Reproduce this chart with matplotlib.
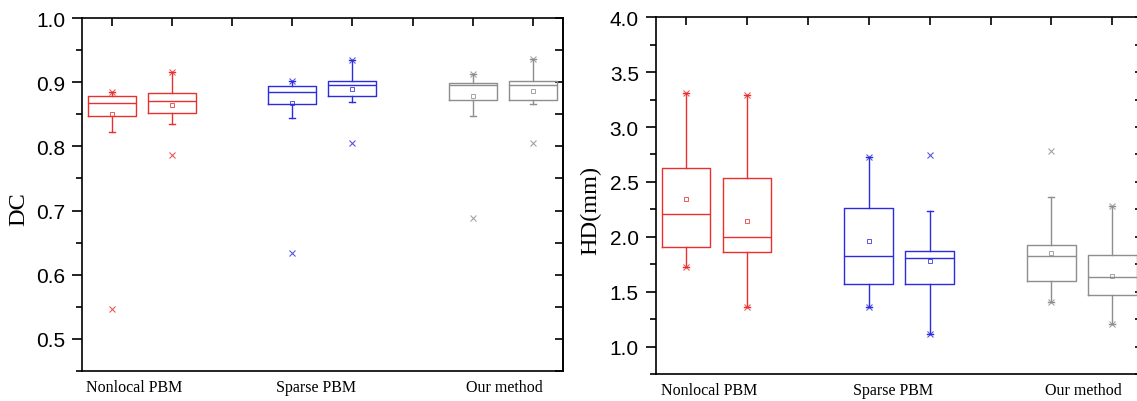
import matplotlib
matplotlib.use('Agg')
import matplotlib.pyplot as plt
from matplotlib.ticker import MultipleLocator
import matplotlib.transforms as mtransforms

# categories and box positions
groups = ['Nonlocal PBM', 'Sparse PBM', 'Our method']
positions = [[1, 2], [4, 5], [7, 8]]
label_x = [1.38, 4.4, 7.52]
colors = ['#e8302e', '#2c2cde', '#8e8e8e']

# DC: q1, median, q3, whisker low, whisker high, mean
dc_q1 = [0.848, 0.852, 0.866, 0.879, 0.8715, 0.8715]
dc_med = [0.868, 0.871, 0.885, 0.895, 0.896, 0.895]
dc_q3 = [0.878, 0.883, 0.894, 0.9026, 0.8995, 0.9026]
dc_lo = [0.822, 0.835, 0.844, 0.8695, 0.848, 0.866]
dc_hi = [0.885, 0.916, 0.902, 0.935, 0.913, 0.936]
dc_mean = [0.850, 0.865, 0.868, 0.889, 0.879, 0.887]
dc_marks = [[0.885, 0.546], [0.916, 0.787], [0.902, 0.634],
            [0.935, 0.805], [0.913, 0.688], [0.936, 0.805]]

# HD(mm)
hd_q1 = [1.911, 1.863, 1.574, 1.574, 1.595, 1.474]
hd_med = [2.209, 2.002, 1.823, 1.805, 1.823, 1.632]
hd_q3 = [2.628, 2.537, 2.266, 1.875, 1.926, 1.838]
hd_lo = [1.723, 1.362, 1.362, 1.119, 1.410, 1.207]
hd_hi = [3.308, 3.293, 2.728, 2.236, 2.367, 2.282]
hd_mean = [2.345, 2.148, 1.963, 1.784, 1.853, 1.647]
hd_marks = [[3.308, 1.723], [3.293, 1.362], [2.728, 1.362],
            [2.743, 1.119], [2.780, 1.410], [2.282, 1.207]]

serif = 'Liberation Serif'
sans = 'Liberation Sans'


def make_stats(q1, med, q3, lo, hi, mean, marks):
    stats = []
    for i in range(len(q1)):
        stats.append(dict(q1=q1[i], med=med[i], q3=q3[i], whislo=lo[i],
                          whishi=hi[i], mean=mean[i], fliers=marks[i]))
    return stats


def draw_panel(ax, stats, ylim, major, minor, ylabel, label_pos):
    for g in range(len(groups)):
        col = colors[g]
        ax.bxp(stats[2 * g:2 * g + 2], positions=positions[g], widths=0.8,
               capwidths=0.1, showmeans=True, manage_ticks=False,
               boxprops=dict(color=col, lw=1.0),
               medianprops=dict(color=col, lw=1.0),
               whiskerprops=dict(color=col, lw=1.0),
               capprops=dict(color=col, lw=1.0),
               meanprops=dict(marker='s', markersize=3.5, markerfacecolor='none',
                              markeredgecolor=col, markeredgewidth=0.7, alpha=0.8),
               flierprops=dict(marker='x', markersize=4, markeredgecolor=col,
                               markeredgewidth=0.8, alpha=0.8))
    ax.set_xlim(0.5, 8.5)
    ax.set_ylim(*ylim)
    ax.set_xticks(range(1, 9))
    ax.tick_params(axis='x', bottom=False, labelbottom=False, top=True,
                   direction='in', length=6, width=1.2)
    ax.yaxis.set_major_locator(MultipleLocator(major))
    ax.yaxis.set_minor_locator(MultipleLocator(minor))
    ax.tick_params(axis='y', which='major', direction='out', length=7, width=1.2,
                   labelsize=15, pad=5)
    ax.tick_params(axis='y', which='minor', direction='out', length=4, width=1.2)
    for lab in ax.get_yticklabels():
        lab.set_fontfamily(sans)
    sec = ax.secondary_yaxis('right')
    sec.yaxis.set_major_locator(MultipleLocator(major))
    sec.yaxis.set_minor_locator(MultipleLocator(minor))
    sec.tick_params(which='both', direction='in', length=6, width=1.2, labelright=False)
    sec.spines['right'].set_linewidth(1.2)
    for s in ax.spines.values():
        s.set_linewidth(1.2)
    ax.set_ylabel(ylabel, fontsize=17.5, family=serif)
    ax.yaxis.set_label_coords(label_pos, 0.46)
    trans = mtransforms.blended_transform_factory(ax.transData, ax.transAxes)
    for x, name in zip(label_x, groups):
        ax.text(x, -0.044, name, transform=trans, ha='center', va='center',
                fontsize=11.5, family=serif)


fig = plt.figure(figsize=(11.37, 4.02), dpi=100)
ax1 = fig.add_axes([81.7 / 1137, 30 / 402, 481.3 / 1137, 353 / 402])
ax2 = fig.add_axes([655.5 / 1137, 27 / 402, 487.3 / 1137, 356.7 / 402])

draw_panel(ax1, make_stats(dc_q1, dc_med, dc_q3, dc_lo, dc_hi, dc_mean, dc_marks),
           (0.45, 1.0), 0.1, 0.05, 'DC', -0.108)
draw_panel(ax2, make_stats(hd_q1, hd_med, hd_q3, hd_lo, hd_hi, hd_mean, hd_marks),
           (0.75, 4.0), 0.5, 0.25, 'HD(mm)', -0.112)

fig.savefig('out.png', dpi=100)
